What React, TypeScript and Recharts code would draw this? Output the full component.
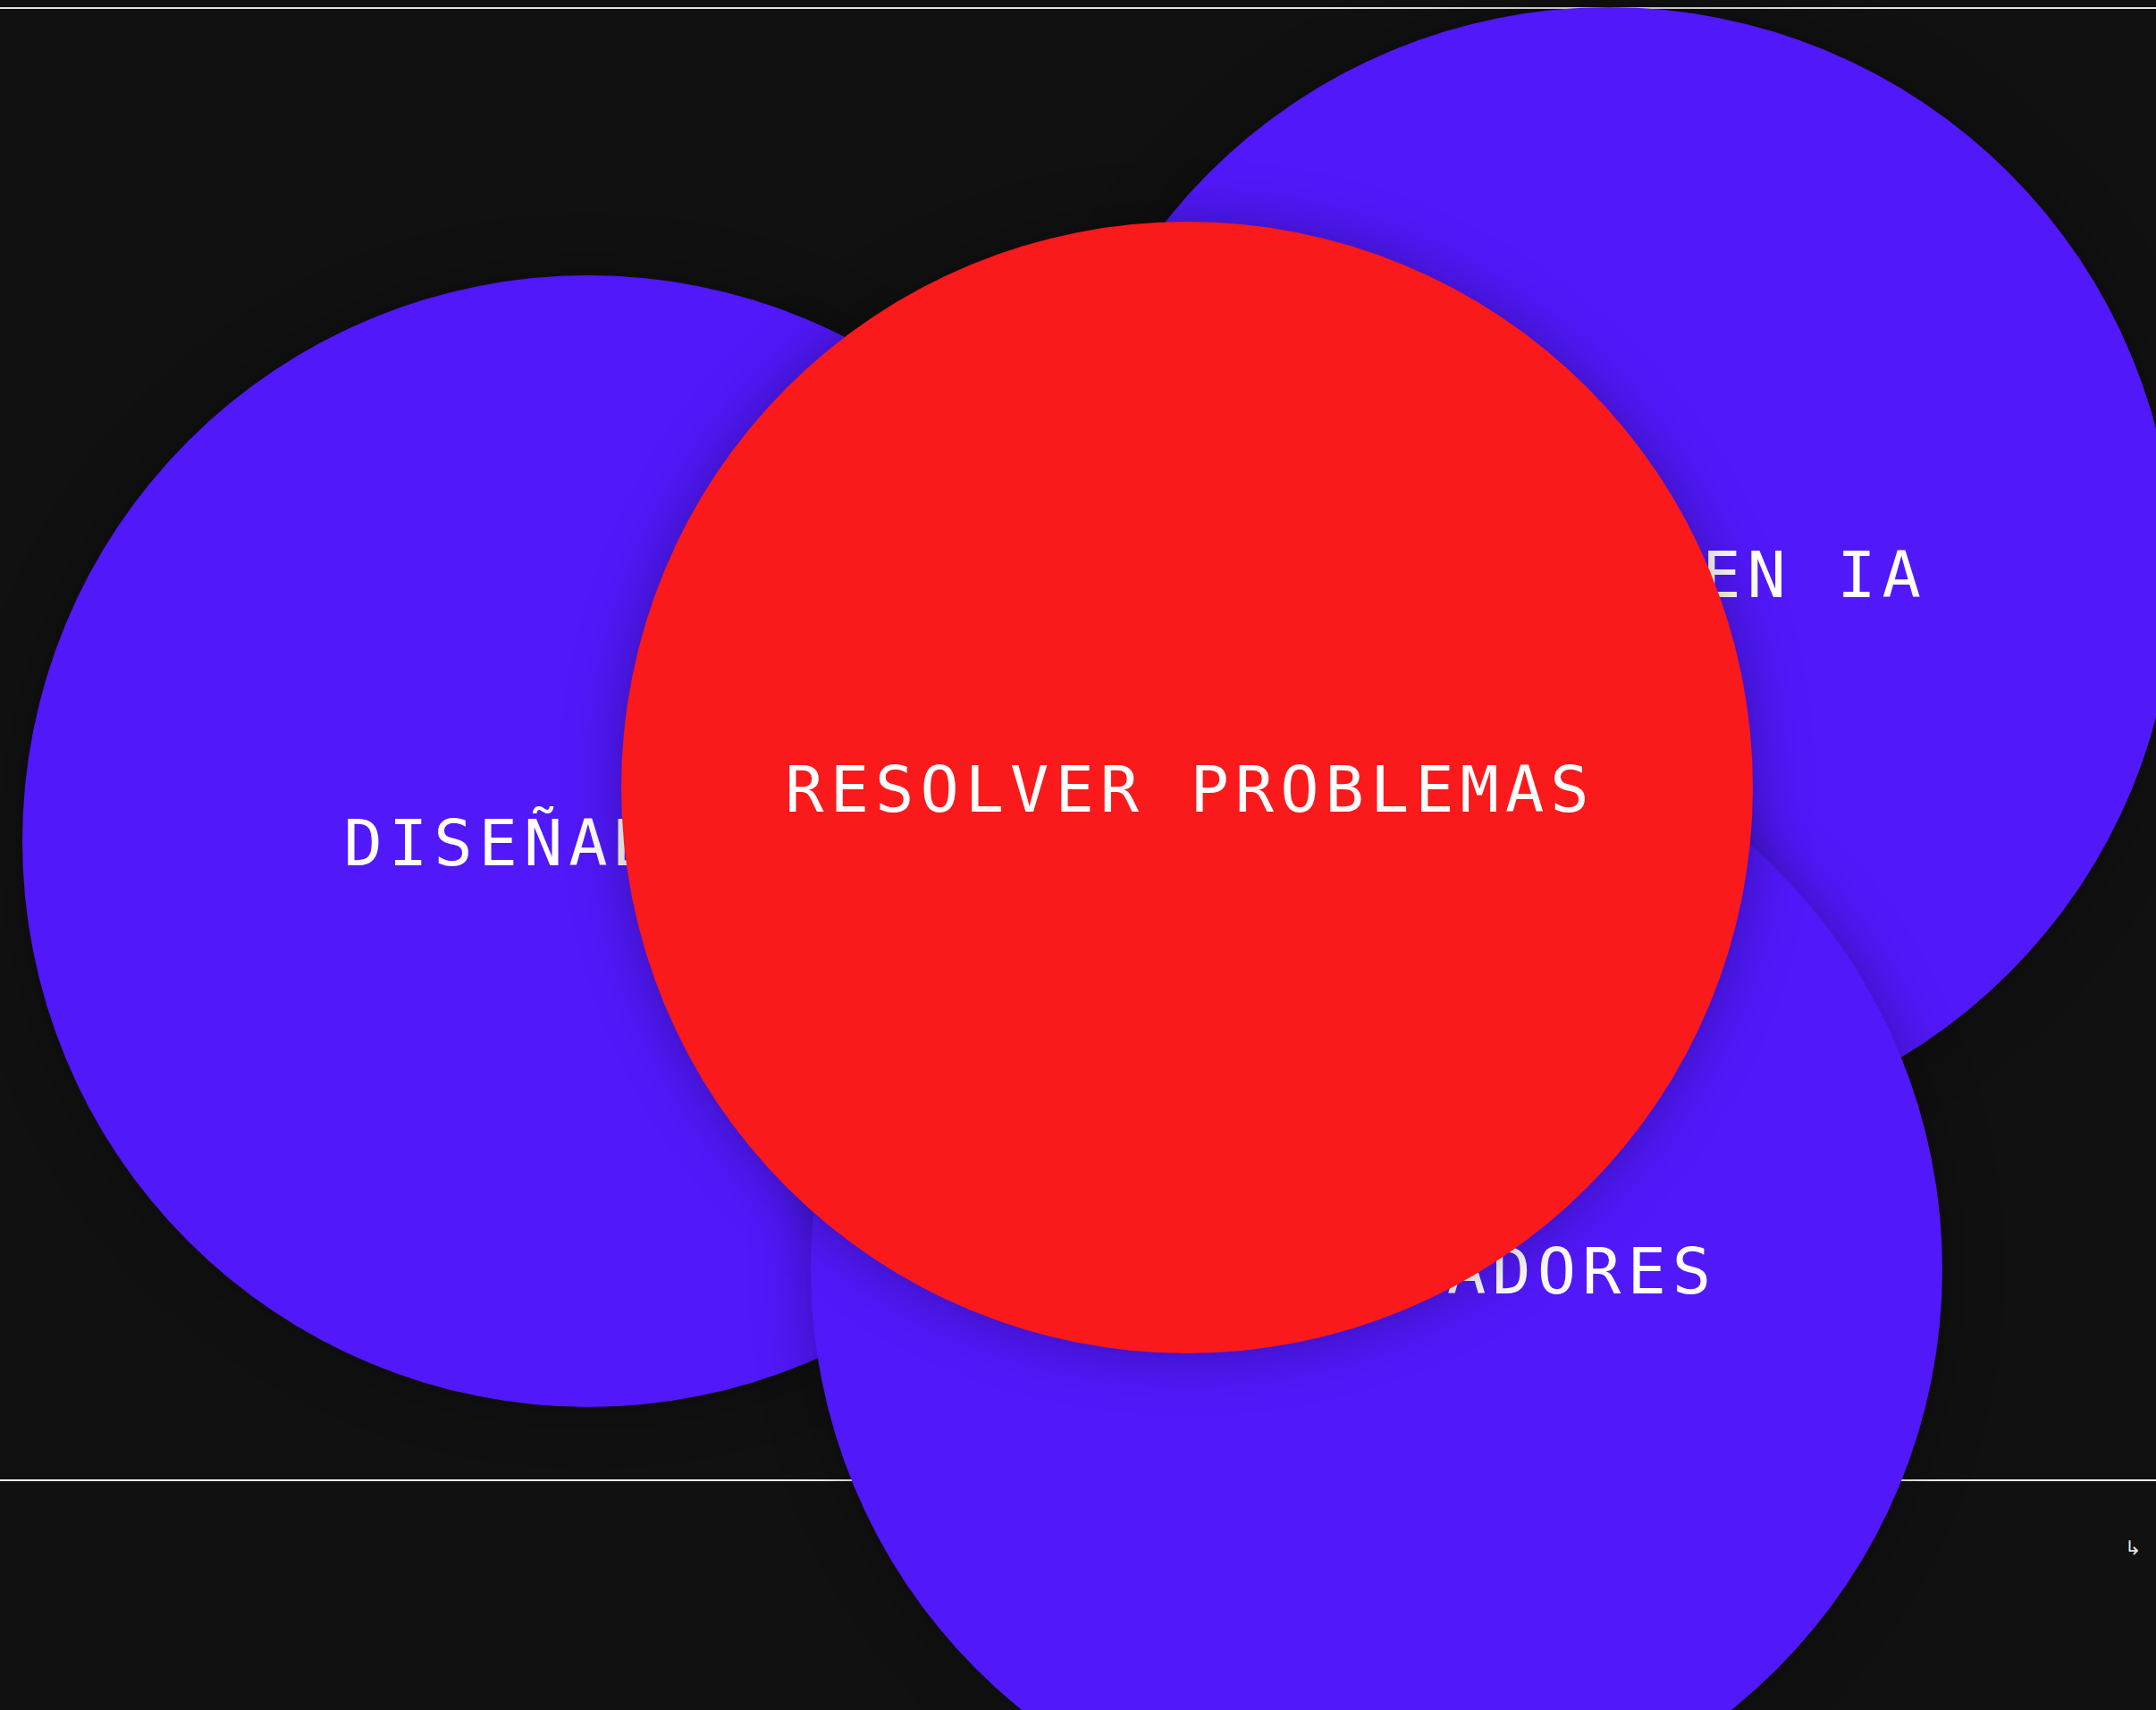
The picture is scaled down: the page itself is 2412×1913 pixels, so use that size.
import React from "react";
import { ScatterChart, Scatter, XAxis, YAxis } from "recharts";

const W = 2412;
const H = 1913;

// Circles, drawn in this order (later ones on top)
const circleLabels = ["DISEÑADORES", "EXPERTOS EN IA", "DESARROLLADORES", "RESOLVER PROBLEMAS"];
const circleX = [658, 1800, 1540, 1328];
const circleY = [941, 641, 1420, 881];
const circleR = [633, 633, 633, 633];
const circleKind = ["blue", "blue", "blue", "red"];

// Horizontal rules
const topRuleY = 9;
const bottomRuleY = 1656;

// Corner glyph
const cornerGlyph = "↳";
const cornerX = 2386;
const cornerY = 1731;

const palette: Record<string, string> = { blue: "#5118FA", red: "#FA191B" };

const circleData = circleLabels.map((label, i) => ({
  x: circleX[i],
  y: circleY[i],
  r: circleR[i],
  label,
  kind: circleKind[i],
}));
const topRule = [{ x: 0, y: topRuleY }, { x: W, y: topRuleY }];
const bottomRule = [{ x: 0, y: bottomRuleY }, { x: W, y: bottomRuleY }];
const cornerData = [{ x: cornerX, y: cornerY, label: cornerGlyph }];

const FONT = "'DejaVu Sans Mono', 'Liberation Mono', monospace";

const CircleShape = (props: any) => {
  const { cx, cy, payload } = props;
  if (cx == null || cy == null) return <g />;
  // x domain maps 1:1 to pixels, so radius in data units equals pixels
  const scale = props.xAxis && props.xAxis.scale ? Math.abs(props.xAxis.scale(payload.r) - props.xAxis.scale(0)) : payload.r;
  const r = scale || payload.r;
  return (
    <g style={{ filter: "drop-shadow(0px 0px 32px rgba(0,0,0,0.3))" }}>
      <circle cx={cx} cy={cy} r={r} fill={palette[payload.kind]} />
      <text
        x={cx + 3.5}
        y={cy + 27}
        textAnchor="middle"
        fill="#ffffff"
        fontFamily={FONT}
        fontSize={72}
        letterSpacing={7}
      >
        {payload.label}
      </text>
    </g>
  );
};

const GlyphShape = (props: any) => {
  const { cx, cy, payload } = props;
  if (cx == null || cy == null) return <g />;
  return (
    <text x={cx} y={cy + 8} textAnchor="middle" fill="#e6e6e6" fontFamily="'DejaVu Sans', sans-serif" fontSize={22}>
      {payload.label}
    </text>
  );
};

const NoShape = () => <g />;

export default function App() {
  return (
    <div style={{ position: "fixed", left: 0, top: 0, width: W, height: H, background: "#111111", overflow: "hidden" }}>
      <ScatterChart width={W} height={H} margin={{ top: 0, right: 0, bottom: 0, left: 0 }}>
        <XAxis type="number" dataKey="x" domain={[0, W]} hide allowDataOverflow />
        <YAxis type="number" dataKey="y" domain={[0, H]} reversed hide allowDataOverflow />
        <Scatter
          data={topRule}
          line={{ stroke: "#e4e4e4", strokeWidth: 2 }}
          shape={NoShape}
          isAnimationActive={false}
        />
        <Scatter
          data={bottomRule}
          line={{ stroke: "#f2f2f2", strokeWidth: 2 }}
          shape={NoShape}
          isAnimationActive={false}
        />
        <Scatter data={cornerData} shape={GlyphShape} isAnimationActive={false} />
        <Scatter data={circleData} shape={CircleShape} isAnimationActive={false} />
      </ScatterChart>
    </div>
  );
}
